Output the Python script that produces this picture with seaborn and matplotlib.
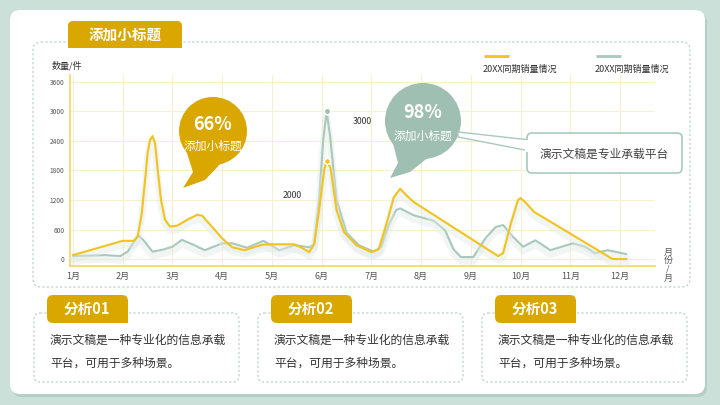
import pandas as pd
import seaborn as sns
import matplotlib.pyplot as plt
import matplotlib.patheffects as pe
from matplotlib.patches import FancyBboxPatch, Circle, Polygon, Rectangle

# -------------------------------
# Data
# -------------------------------
months = ['1月', '2月', '3月', '4月', '5月', '6月', '7月', '8月', '9月', '10月', '11月', '12月']
y_ticks = [0, 600, 1200, 1800, 2400, 3000, 3600]

yellow_x = [1.0, 2.0, 2.22, 2.3, 2.38, 2.45, 2.5, 2.55, 2.6, 2.65, 2.7, 2.77, 2.85, 2.95,
            3.1, 3.3, 3.5, 3.6, 3.8, 4.0, 4.2, 4.45, 4.8, 5.0, 5.45, 5.6, 5.75, 5.85, 5.95,
            6.05, 6.1, 6.18, 6.3, 6.45, 6.7, 7.0, 7.15, 7.3, 7.45, 7.58, 7.7, 7.85, 9.55,
            9.65, 9.8, 9.95, 10.0, 10.1, 10.27, 11.85, 12.13]
yellow_y = [80, 370, 370, 450, 900, 1600, 2150, 2420, 2500, 2350, 1850, 1200, 800, 660,
            680, 800, 900, 880, 650, 420, 240, 180, 290, 300, 300, 230, 140, 300, 1000,
            1800, 2000, 1850, 1000, 550, 280, 140, 200, 700, 1250, 1430, 1300, 1160, 60,
            120, 700, 1200, 1240, 1150, 960, 0, 0]

grey_x = [1.0, 1.65, 1.95, 2.1, 2.31, 2.42, 2.6, 2.8, 3.0, 3.19, 3.4, 3.65, 4.0, 4.2, 4.5,
          4.83, 5.15, 5.45, 5.75, 5.85, 5.95, 6.03, 6.1, 6.17, 6.3, 6.5, 6.75, 7.05, 7.2,
          7.35, 7.5, 7.58, 7.85, 8.25, 8.48, 8.65, 8.8, 9.05, 9.3, 9.5, 9.65, 9.85, 10.05,
          10.3, 10.6, 11.05, 11.3, 11.5, 11.75, 12.13]
grey_y = [60, 80, 60, 150, 490, 380, 150, 190, 250, 390, 300, 180, 320, 320, 230,
          370, 180, 280, 240, 300, 1200, 2400, 3000, 2500, 1200, 530, 280, 150, 250,
          700, 1000, 1030, 890, 780, 590, 200, 40, 40, 430, 650, 690, 450, 250,
          380, 180, 320, 250, 120, 180, 100]

peak_month = 6.1
peak_yellow = 2000
peak_grey = 3000

series_name = '20XX同期销量情况'
cards = ['分析01', '分析02', '分析03']
card_text = '演示文稿是一种专业化的信息承载\n平台，可用于多种场景。'

# colours
GOLD = '#d9a700'
YELLOW = '#f2c31d'
GREY = '#a9c9bd'
SAGE = '#9ebfb1'
BORDER = '#b3cec5'

sns.set_theme(style='white')
plt.rcParams['font.family'] = ['Noto Sans CJK SC', 'DejaVu Sans']

fig = plt.figure(figsize=(7.2, 4.05), dpi=100)
fig.patch.set_facecolor('#cae0d8')

# background layer in pixel coordinates
bg = fig.add_axes([0, 0, 1, 1], zorder=0)
bg.set_xlim(0, 720)
bg.set_ylim(405, 0)
bg.axis('off')
bg.add_patch(FancyBboxPatch((12, 13), 695, 384, boxstyle='round,pad=0,rounding_size=10',
                            fc='#b4cfc6', ec='none'))
bg.add_patch(FancyBboxPatch((10, 10), 695, 384, boxstyle='round,pad=0,rounding_size=10',
                            fc='white', ec='none'))
bg.add_patch(FancyBboxPatch((33, 42), 657, 245, boxstyle='round,pad=0,rounding_size=8',
                            fc='none', ec=BORDER, lw=0.8, ls=(0, (2, 2))))

# -------------------------------
# Line chart
# -------------------------------
ax = fig.add_axes([70 / 720, 1 - 266.4 / 405, 584.8 / 720, 191.8 / 405], zorder=1)
ax.patch.set_alpha(0)

df = pd.concat([
    pd.DataFrame({'month': yellow_x, 'value': yellow_y, 'series': 'a'}),
    pd.DataFrame({'month': grey_x, 'value': grey_y, 'series': 'b'}),
])
sns.lineplot(data=df, x='month', y='value', hue='series', sort=False,
             palette={'a': YELLOW, 'b': GREY}, linewidth=1.5, legend=False, ax=ax)
for line in ax.lines:
    line.set_path_effects([pe.SimpleLineShadow(offset=(0, -3), shadow_color='#e2ebe7',
                                               alpha=0.45, linewidth=5), pe.Normal()])
ax.lines[0].set_zorder(3)

ax.scatter([peak_month], [peak_grey], s=22, color=SAGE, edgecolor='white', lw=1.2, zorder=5)
ax.scatter([peak_month], [peak_yellow], s=18, color=YELLOW, edgecolor='white', lw=1.0, zorder=5)
ax.text(6.63, 2800, str(peak_grey), fontsize=6.3, color='#333333', va='center')
ax.text(5.22, 1300, str(peak_yellow), fontsize=6.3, color='#333333', va='center')

ax.set_xlim(0.94, 12.7)
ax.set_ylim(-150, 3750)
ax.set_xticks(range(1, 13))
ax.set_xticklabels(months, fontsize=6.5, color='#555555')
ax.set_yticks(y_ticks)
ax.set_yticklabels([str(v) for v in y_ticks], fontsize=4.8, color='#555555')
ax.tick_params(length=0, pad=4)
ax.set_xlabel('')
ax.set_ylabel('')
ax.grid(True, color='#f7efcd', lw=0.8)
for s in ['top', 'right']:
    ax.spines[s].set_visible(False)
for s in ['left', 'bottom']:
    ax.spines[s].set_color('#f5d565')
    ax.spines[s].set_linewidth(1.2)

# -------------------------------
# Overlay: titles, bubbles, legend, cards
# -------------------------------
ov = fig.add_axes([0, 0, 1, 1], zorder=2)
ov.set_xlim(0, 720)
ov.set_ylim(405, 0)
ov.axis('off')

# title tab
ov.add_patch(FancyBboxPatch((68, 21), 114, 27, boxstyle='round,pad=0,rounding_size=5',
                            fc=GOLD, ec='none'))
ov.add_patch(Rectangle((68, 38), 114, 10, fc=GOLD, ec='none'))
ov.text(125, 35, '添加小标题', fontsize=10.5, fontweight='bold', color='white',
        ha='center', va='center')

ov.text(52, 66, '数量/件', fontsize=6.5, color='#333333', va='center')
ov.text(668, 265, '月\n份\n/\n月', fontsize=6.5, color='#555555', ha='center', va='center',
        linespacing=0.95)

# legend
for x0, col in [(484, YELLOW), (596, GREY)]:
    ov.plot([x0, x0 + 25], [56, 56], color=col, lw=2, solid_capstyle='butt')
    ov.text(x0 - 1, 69, series_name, fontsize=6.5, color='#333333', va='center')

# gold bubble
ov.add_patch(Polygon([(186, 150), (193, 172), (183, 188), (205, 180), (224, 160)],
                     fc=GOLD, ec='none'))
ov.add_patch(Circle((213, 131), 34, fc=GOLD, ec='none'))
ov.text(213, 124, '66%', fontsize=13, fontweight='bold', color='white', ha='center', va='center')
ov.text(213, 146, '添加小标题', fontsize=8.5, color='white', ha='center', va='center')

# sage bubble
ov.add_patch(Polygon([(393, 143), (398, 163), (390, 178), (410, 172), (430, 156)],
                     fc=SAGE, ec='none'))
ov.add_patch(Circle((423, 121), 38, fc=SAGE, ec='none'))
ov.text(423, 113, '98%', fontsize=13, fontweight='bold', color='white', ha='center', va='center')
ov.text(423, 136, '添加小标题', fontsize=8.5, color='white', ha='center', va='center')

# connector + callout box
ov.add_patch(Polygon([(458, 132), (530, 140), (530, 151), (458, 137)],
                     fc='white', ec=GREY, lw=1.0, zorder=3))
ov.add_patch(FancyBboxPatch((527, 133), 155, 40, boxstyle='round,pad=0,rounding_size=5',
                            fc='white', ec=GREY, lw=1.2, zorder=4))
ov.add_patch(Rectangle((525, 139.5), 4, 12, fc='white', ec='none', zorder=5))
ov.text(604, 154, '演示文稿是专业承载平台', fontsize=8.5, color='#444444',
        ha='center', va='center', zorder=6)

# bottom cards
for i, name in enumerate(cards):
    x0 = 34 + i * 224
    ov.add_patch(FancyBboxPatch((x0, 313), 205, 69, boxstyle='round,pad=0,rounding_size=6',
                                fc='white', ec=BORDER, lw=0.8, ls=(0, (2, 2))))
    ov.add_patch(FancyBboxPatch((x0 + 13, 295), 81, 28, boxstyle='round,pad=0,rounding_size=6',
                                fc=GOLD, ec='none'))
    ov.add_patch(Rectangle((x0 + 80, 310), 14, 13, fc=GOLD, ec='none'))
    ov.text(x0 + 53, 309, name, fontsize=10.5, fontweight='bold', color='white',
            ha='center', va='center')
    ov.text(x0 + 16, 352, card_text, fontsize=8.5, color='#333333', va='center',
            linespacing=2.0)

fig.savefig('out.png', dpi=100)
